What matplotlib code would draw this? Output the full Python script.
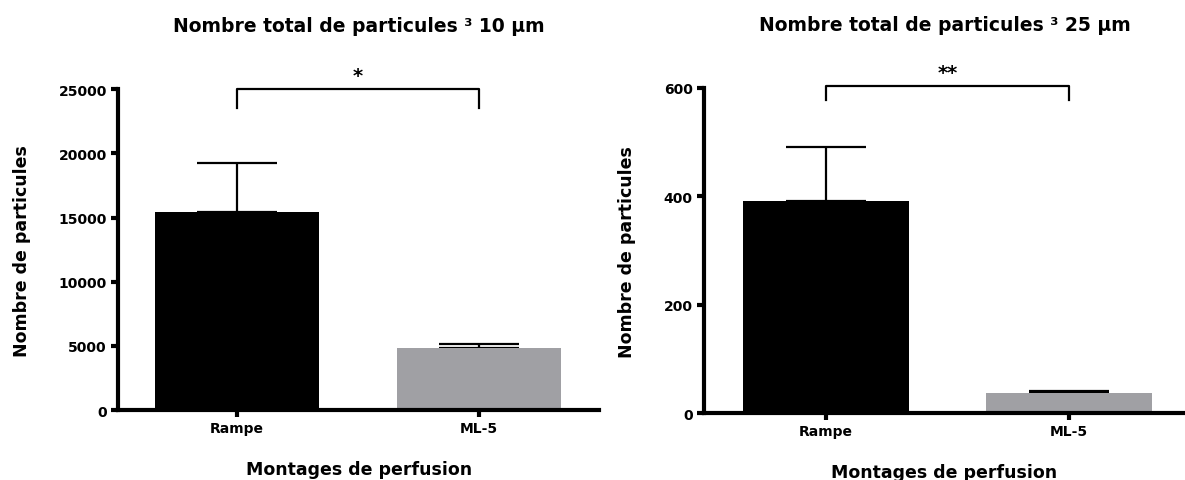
import matplotlib
matplotlib.use('Agg')
import matplotlib.pyplot as plt

plt.rcParams['font.family'] = ['DejaVu Sans']
plt.rcParams['font.weight'] = 'bold'

# données
groupes = ['Rampe', 'ML-5']
moy_10 = [15400, 4830]
err_10 = [3840, 310]
moy_25 = [391, 37]
err_25 = [100, 4]
titres = ['Nombre total de particules ³ 10 µm', 'Nombre total de particules ³ 25 µm']
etoiles = ['*', '**']
couleurs = ['#000000', '#a0a0a4']

fig = plt.figure(figsize=(11.85, 4.81), dpi=100)
ax1 = fig.add_axes([0.0996, 0.1455, 0.406, 0.667])
ax2 = fig.add_axes([0.594, 0.139, 0.406, 0.676])

configs = [
    (ax1, moy_10, err_10, 25000, 5000, (-0.492, 1.496), 25000, 23500, titres[0], etoiles[0]),
    (ax2, moy_25, err_25, 600, 200, (-0.502, 1.477), 604, 577, titres[1], etoiles[1]),
]

for ax, moy, err, ymax, pas, xl, yb, yb0, titre, etoile in configs:
    x = range(len(groupes))
    ax.bar(x, moy, width=0.68, color=couleurs, zorder=2)
    ax.errorbar(x, moy, yerr=[[0] * len(err), err], fmt='none', ecolor='black',
                elinewidth=1.6, capsize=29, capthick=1.6, zorder=1)
    ax.set_xlim(*xl)
    ax.set_ylim(0, ymax)
    ax.set_yticks(range(0, ymax + 1, pas))
    ax.set_xticks(list(x))
    ax.set_xticklabels(groupes)
    for s in ['top', 'right']:
        ax.spines[s].set_visible(False)
    for s in ['left', 'bottom']:
        ax.spines[s].set_linewidth(3)
    ax.tick_params(width=3, length=5, labelsize=10, pad=3)
    for lab in ax.get_xticklabels() + ax.get_yticklabels():
        lab.set_fontweight('bold')
    ax.set_ylabel('Nombre de particules', fontsize=12.5, fontweight='bold', labelpad=20)
    ax.set_xlabel('Montages de perfusion', fontsize=12.5, fontweight='bold', labelpad=18)
    ax.set_title(titre, fontsize=13.5, fontweight='bold', pad=42)
    # crochet de significativité
    ax.plot([0, 0, 1, 1], [yb0, yb, yb, yb0], color='black', lw=1.6, clip_on=False)
    ax.text(0.5, yb + ymax * 0.012, etoile, ha='center', va='bottom', fontsize=14,
            fontweight='bold')

fig.savefig('out.png', dpi=100)
